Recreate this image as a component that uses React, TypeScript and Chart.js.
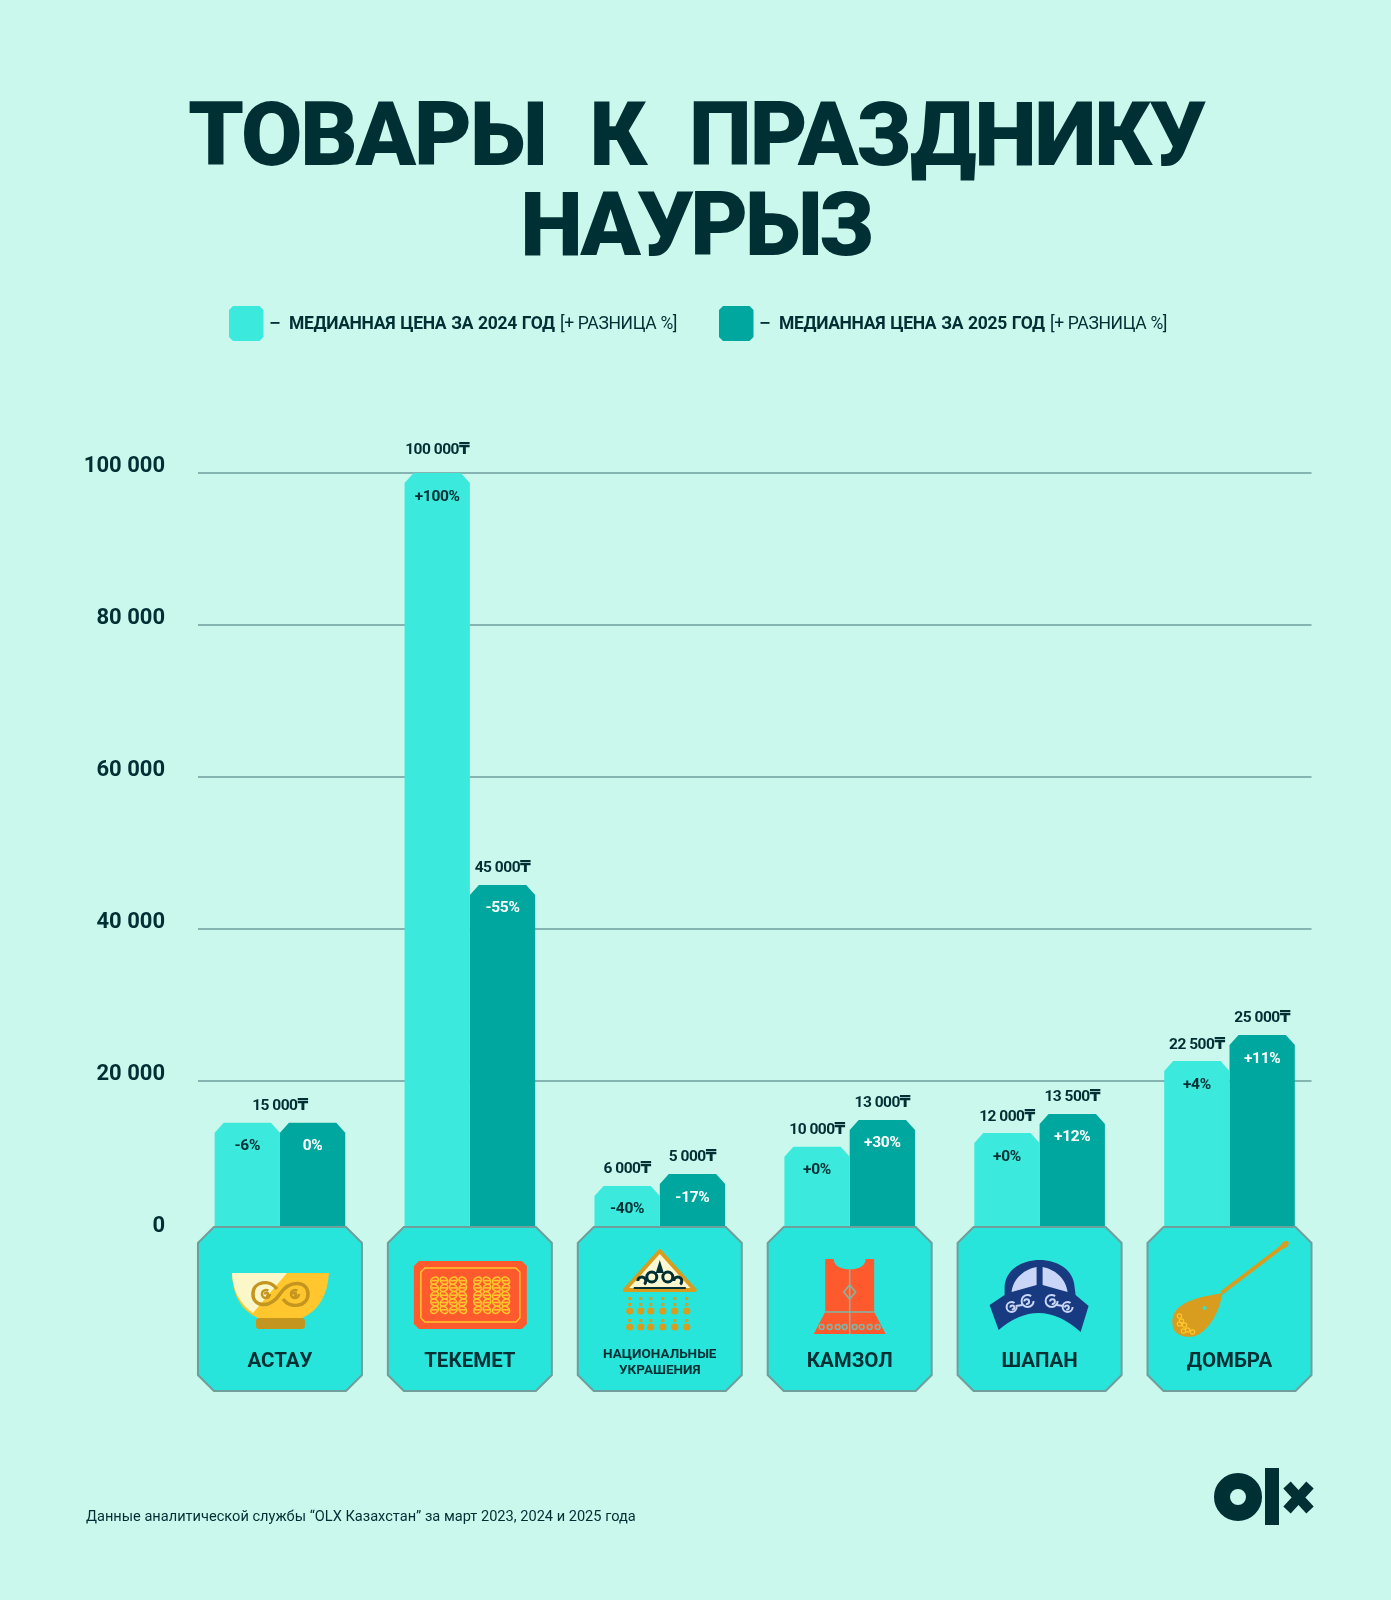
import React, { useEffect, useRef } from "react";
import { Chart, registerables } from "chart.js";

Chart.register(...registerables);

const categories: (string | string[])[] = [
	"АСТАУ",
	"ТЕКЕМЕТ",
	["НАЦИОНАЛЬНЫЕ", "УКРАШЕНИЯ"],
	"КАМЗОЛ",
	"ШАПАН",
	"ДОМБРА",
];

// bar heights as drawn in the picture (the original is not quite to scale with its printed prices)
const height2024 = [14500, 100000, 6200, 11350, 13150, 22630];
const height2025 = [14500, 45800, 7760, 14870, 15660, 26050];

// printed prices, empty string = shared label centred over the pair
const price2024 = ["15 000₸", "100 000₸", "6 000₸", "10 000₸", "12 000₸", "22 500₸"];
const price2025 = ["", "45 000₸", "5 000₸", "13 000₸", "13 500₸", "25 000₸"];

const diff2024 = ["-6%", "+100%", "-40%", "+0%", "+0%", "+4%"];
const diff2025 = ["0%", "-55%", "-17%", "+30%", "+12%", "+11%"];

const yTicks = [0, 20000, 40000, 60000, 80000, 100000];

const titleLines = ["ТОВАРЫ К ПРАЗДНИКУ", "НАУРЫЗ"];
const legendBold = ["МЕДИАННАЯ ЦЕНА ЗА 2024 ГОД", "МЕДИАННАЯ ЦЕНА ЗА 2025 ГОД"];
const legendNote = "[+ РАЗНИЦА %]";
const footnote = "Данные аналитической службы “OLX Казахстан” за март 2023, 2024 и 2025 года";

const BG = "#CBF8ED";
const LIGHT = "#3CE9DD";
const DARK = "#00A79E";
const TILE = "#28E5DB";
const EDGE = "#6F9E9B";
const INK = "#002F34";
const RED = "#FF5A2D";
const GOLD = "#D89C1E";
const YELLOW = "#FFC62E";
const NAVY = "#173A80";
const FONT = "Roboto, 'DejaVu Sans', sans-serif";

const chamfer = (
	ctx: CanvasRenderingContext2D,
	l: number,
	t: number,
	r: number,
	b: number,
	cx: number,
	cy: number,
	bottomToo = true
) => {
	ctx.beginPath();
	ctx.moveTo(l, t + cy);
	ctx.lineTo(l + cx, t);
	ctx.lineTo(r - cx, t);
	ctx.lineTo(r, t + cy);
	if (bottomToo) {
		ctx.lineTo(r, b - cy);
		ctx.lineTo(r - cx, b);
		ctx.lineTo(l + cx, b);
		ctx.lineTo(l, b - cy);
	} else {
		ctx.lineTo(r, b);
		ctx.lineTo(l, b);
	}
	ctx.closePath();
};

const text = (
	ctx: CanvasRenderingContext2D,
	s: string,
	x: number,
	y: number,
	font: string,
	color: string,
	align: CanvasTextAlign = "center",
	spacing = 0,
	wordSpacing = 0
) => {
	ctx.save();
	ctx.font = font;
	ctx.fillStyle = color;
	ctx.textAlign = align;
	ctx.textBaseline = "alphabetic";
	(ctx as any).letterSpacing = spacing + "px";
	(ctx as any).wordSpacing = wordSpacing + "px";
	ctx.fillText(s, x, y);
	ctx.restore();
};

const swirl = (ctx: CanvasRenderingContext2D, x: number, y: number, r: number, flip: number) => {
	ctx.beginPath();
	ctx.arc(x, y, r, 0, Math.PI * 1.7 * 1);
	ctx.stroke();
	ctx.beginPath();
	ctx.arc(x + flip * r * 0.15, y + r * 0.1, r * 0.4, Math.PI, Math.PI * 2.6);
	ctx.stroke();
};

// icons are drawn around the tile centre (cx) and the tile top (t)
const drawBowl = (ctx: CanvasRenderingContext2D, cx: number, t: number) => {
	ctx.fillStyle = YELLOW;
	ctx.beginPath();
	ctx.moveTo(cx - 48, t + 46);
	ctx.lineTo(cx + 49, t + 46);
	ctx.quadraticCurveTo(cx + 47, t + 80, cx + 22, t + 91);
	ctx.lineTo(cx - 22, t + 91);
	ctx.quadraticCurveTo(cx - 47, t + 80, cx - 48, t + 46);
	ctx.fill();
	ctx.fillStyle = "#FBF7C8";
	ctx.beginPath();
	ctx.moveTo(cx - 48, t + 46);
	ctx.lineTo(cx + 7, t + 46);
	ctx.lineTo(cx - 27, t + 86);
	ctx.quadraticCurveTo(cx - 47, t + 72, cx - 48, t + 46);
	ctx.fill();
	ctx.fillStyle = "#C4951F";
	chamfer(ctx, cx - 24, t + 91, cx + 25, t + 102, 2, 2);
	ctx.fill();
	ctx.strokeStyle = "#C4951F";
	ctx.lineWidth = 3.5;
	ctx.beginPath();
	ctx.moveTo(cx - 3, t + 62);
	ctx.bezierCurveTo(cx - 10, t + 52, cx - 27, t + 54, cx - 27, t + 67);
	ctx.bezierCurveTo(cx - 27, t + 80, cx - 10, t + 82, cx, t + 67);
	ctx.bezierCurveTo(cx + 10, t + 52, cx + 28, t + 54, cx + 28, t + 67);
	ctx.bezierCurveTo(cx + 28, t + 80, cx + 10, t + 82, cx + 3, t + 72);
	ctx.stroke();
	ctx.lineWidth = 2.5;
	swirl(ctx, cx - 14, t + 67, 4, 1);
	swirl(ctx, cx + 15, t + 67, 4, -1);
};

const drawRug = (ctx: CanvasRenderingContext2D, cx: number, t: number) => {
	ctx.fillStyle = RED;
	chamfer(ctx, cx - 56, t + 34, cx + 57, t + 102, 5, 5);
	ctx.fill();
	ctx.strokeStyle = YELLOW;
	ctx.lineWidth = 1.5;
	chamfer(ctx, cx - 49, t + 41, cx + 50, t + 95, 4, 4);
	ctx.stroke();
	[cx - 40, cx + 3].forEach(l => {
		ctx.lineWidth = 1.6;
		for (let i = 0; i < 5; i++) {
			for (let j = 0; j < 4; j++) {
				const px = l + 4.7 + j * 9.4;
				const py = t + 50 + 3.6 + i * 7.3;
				ctx.beginPath();
				ctx.ellipse(px, py, 4.2, 3.2, (i + j) % 2 ? 0.7 : -0.7, 0, Math.PI * 2);
				ctx.stroke();
				ctx.beginPath();
				ctx.moveTo(px - 3, py);
				ctx.lineTo(px + 3, py);
				ctx.stroke();
			}
		}
	});
};

const drawJewel = (ctx: CanvasRenderingContext2D, cx: number, t: number) => {
	ctx.fillStyle = "#FDF8D2";
	ctx.strokeStyle = GOLD;
	ctx.lineWidth = 4;
	ctx.lineJoin = "round";
	ctx.beginPath();
	ctx.moveTo(cx, t + 24);
	ctx.lineTo(cx + 35, t + 63);
	ctx.lineTo(cx - 35, t + 63);
	ctx.closePath();
	ctx.fill();
	ctx.stroke();
	ctx.lineJoin = "miter";
	ctx.strokeStyle = INK;
	ctx.lineWidth = 3;
	[-1, 1].forEach(d => {
		ctx.beginPath();
		ctx.arc(cx + d * 8, t + 50, 5, 0, Math.PI * 2);
		ctx.stroke();
		ctx.beginPath();
		ctx.arc(cx + d * 18, t + 54, 4, Math.PI, Math.PI * 2.3);
		ctx.stroke();
	});
	ctx.fillStyle = INK;
	ctx.beginPath();
	ctx.moveTo(cx, t + 33);
	ctx.lineTo(cx + 4, t + 46);
	ctx.lineTo(cx - 4, t + 46);
	ctx.closePath();
	ctx.fill();
	ctx.fillRect(cx - 26, t + 60, 52, 2);
	ctx.fillStyle = GOLD;
	[-30, -19, -9, 3, 15, 27].forEach(dx => {
		[70, 76, 92].forEach(dy => {
			ctx.fillRect(cx + dx - 1.5, t + dy, 3, 3);
		});
		[84, 100].forEach(dy => {
			ctx.beginPath();
			ctx.arc(cx + dx, t + dy, 3.6, 0, Math.PI * 2);
			ctx.fill();
		});
	});
};

const drawVest = (ctx: CanvasRenderingContext2D, cx: number, t: number) => {
	ctx.fillStyle = RED;
	ctx.beginPath();
	ctx.moveTo(cx - 24.5, t + 32);
	ctx.lineTo(cx - 16, t + 32);
	ctx.bezierCurveTo(cx - 16, t + 46, cx + 16, t + 46, cx + 16, t + 32);
	ctx.lineTo(cx + 24.5, t + 32);
	ctx.lineTo(cx + 24.5, t + 85);
	ctx.lineTo(cx + 36, t + 107);
	ctx.lineTo(cx - 36, t + 107);
	ctx.lineTo(cx - 24.5, t + 85);
	ctx.closePath();
	ctx.fill();
	ctx.strokeStyle = "#7FB8A6";
	ctx.lineWidth = 1.5;
	ctx.beginPath();
	ctx.moveTo(cx, t + 43);
	ctx.lineTo(cx, t + 107);
	ctx.moveTo(cx - 25, t + 85);
	ctx.lineTo(cx + 25, t + 85);
	ctx.stroke();
	ctx.beginPath();
	ctx.moveTo(cx, t + 58);
	ctx.lineTo(cx + 6, t + 65);
	ctx.lineTo(cx, t + 72);
	ctx.lineTo(cx - 6, t + 65);
	ctx.closePath();
	ctx.stroke();
	[-28, -20, -12, -5, 5, 12, 20, 28].forEach(dx => {
		ctx.beginPath();
		ctx.arc(cx + dx, t + 100, 2.4, 0, Math.PI * 2);
		ctx.stroke();
	});
};

const drawHat = (ctx: CanvasRenderingContext2D, cx: number, t: number) => {
	ctx.fillStyle = NAVY;
	ctx.beginPath();
	ctx.moveTo(cx - 35, t + 60);
	ctx.bezierCurveTo(cx - 33, t + 24, cx + 33, t + 24, cx + 35, t + 60);
	ctx.lineTo(cx + 36, t + 68);
	ctx.lineTo(cx + 49, t + 79);
	ctx.lineTo(cx + 41, t + 105);
	ctx.quadraticCurveTo(cx, t + 68, cx - 41, t + 103);
	ctx.lineTo(cx - 50, t + 78);
	ctx.lineTo(cx - 35, t + 68);
	ctx.closePath();
	ctx.fill();
	ctx.fillStyle = "#C9D6F7";
	ctx.beginPath();
	ctx.moveTo(cx - 3, t + 40);
	ctx.bezierCurveTo(cx - 14, t + 42, cx - 26, t + 50, cx - 28, t + 65);
	ctx.lineTo(cx - 3, t + 58);
	ctx.closePath();
	ctx.moveTo(cx + 3, t + 40);
	ctx.bezierCurveTo(cx + 14, t + 42, cx + 26, t + 50, cx + 28, t + 65);
	ctx.lineTo(cx + 3, t + 58);
	ctx.closePath();
	ctx.fill();
	ctx.strokeStyle = "#C9D6F7";
	ctx.lineWidth = 2;
	[-1, 1].forEach(d => {
		swirl(ctx, cx + d * 12, t + 74, 6, d);
		swirl(ctx, cx + d * 28, t + 80, 5, -d);
		ctx.beginPath();
		ctx.moveTo(cx + d * 17, t + 78);
		ctx.lineTo(cx + d * 24, t + 79);
		ctx.stroke();
	});
};

const drawDombra = (ctx: CanvasRenderingContext2D, cx: number, t: number) => {
	ctx.strokeStyle = GOLD;
	ctx.lineWidth = 4;
	ctx.beginPath();
	ctx.moveTo(cx - 8, t + 66);
	ctx.lineTo(cx + 55, t + 18);
	ctx.stroke();
	ctx.fillStyle = GOLD;
	ctx.beginPath();
	ctx.ellipse(cx + 55, t + 18, 5, 3, -0.7, 0, Math.PI * 2);
	ctx.fill();
	ctx.beginPath();
	ctx.moveTo(cx - 7, t + 66);
	ctx.bezierCurveTo(cx - 28, t + 70, cx - 60, t + 74, cx - 57, t + 98);
	ctx.bezierCurveTo(cx - 56, t + 110, cx - 40, t + 112, cx - 32, t + 108);
	ctx.bezierCurveTo(cx - 20, t + 102, cx - 10, t + 85, cx - 7, t + 66);
	ctx.fill();
	ctx.fillStyle = TILE;
	ctx.beginPath();
	ctx.arc(cx - 25, t + 81, 2, 0, Math.PI * 2);
	ctx.fill();
	ctx.strokeStyle = YELLOW;
	ctx.lineWidth = 1.2;
	[[-50, 89], [-48, 94], [-45, 98], [-42, 103], [-50, 97], [-46, 104], [-37, 105]].forEach(p => {
		ctx.beginPath();
		ctx.arc(cx + p[0], t + p[1], 2.2, 0, Math.PI * 2);
		ctx.stroke();
	});
};

const icons = [drawBowl, drawRug, drawJewel, drawVest, drawHat, drawDombra];

const decorPlugin = {
	id: "decor",
	beforeDraw(chart: any) {
		const { ctx, width, height } = chart;
		ctx.save();
		ctx.fillStyle = BG;
		ctx.fillRect(0, 0, width, height);

		text(ctx, titleLines[0], 696, 165, "900 89px " + FONT, INK, "center", -2.1, 24);
		text(ctx, titleLines[1], 696, 255, "900 89px " + FONT, INK, "center", -3.4, 0);

		const lx = [229, 719];
		legendBold.forEach((s, i) => {
			ctx.fillStyle = i === 0 ? LIGHT : DARK;
			chamfer(ctx, lx[i], 306, lx[i] + 34.5, 341, 4, 4);
			ctx.fill();
			ctx.fillStyle = INK;
			ctx.fillRect(lx[i] + 41.5, 322, 9, 1.8);
			text(ctx, s, lx[i] + 60, 329, "700 17.5px " + FONT, INK, "left", -0.35, 1);
			text(ctx, legendNote, lx[i] + 331, 329, "400 17.5px " + FONT, INK, "left", -0.35);
		});

		text(ctx, footnote, 86, 1521, "400 14.6px " + FONT, INK, "left");

		// logo
		ctx.strokeStyle = INK;
		ctx.lineWidth = 16;
		ctx.beginPath();
		ctx.arc(1238, 1497, 16, 0, Math.PI * 2);
		ctx.stroke();
		ctx.fillStyle = INK;
		ctx.fillRect(1265, 1468, 14, 57);
		ctx.lineWidth = 10;
		ctx.beginPath();
		ctx.moveTo(1287, 1485);
		ctx.lineTo(1310, 1510);
		ctx.moveTo(1310, 1485);
		ctx.lineTo(1287, 1510);
		ctx.stroke();
		ctx.restore();
	},
	beforeDatasetsDraw(chart: any) {
		const { ctx, scales } = chart;
		const left = scales.x.getPixelForValue(0) - 82;
		const right = scales.x.getPixelForValue(categories.length - 1) + 82;
		ctx.save();
		ctx.strokeStyle = EDGE;
		ctx.lineWidth = 1.5;
		yTicks.slice(1).forEach(v => {
			const y = scales.y.getPixelForValue(v);
			ctx.beginPath();
			ctx.moveTo(left, y);
			ctx.lineTo(right, y);
			ctx.stroke();
		});
		ctx.restore();
	},
	beforeDatasetDraw(chart: any, args: any) {
		const { ctx } = chart;
		ctx.save();
		ctx.fillStyle = chart.data.datasets[args.index].backgroundColor;
		args.meta.data.forEach((el: any) => {
			chamfer(ctx, el.x - el.width / 2, el.y, el.x + el.width / 2, el.base, 9, 10, false);
			ctx.fill();
		});
		ctx.restore();
		return false;
	},
	afterDatasetsDraw(chart: any) {
		const { ctx, scales } = chart;
		const tileTop = scales.y.getPixelForValue(0) - 6;
		categories.forEach((_, i) => {
			const cx = scales.x.getPixelForValue(i);
			ctx.save();
			ctx.fillStyle = TILE;
			ctx.strokeStyle = EDGE;
			ctx.lineWidth = 2;
			chamfer(ctx, cx - 82, tileTop, cx + 82, tileTop + 164, 16, 16);
			ctx.fill();
			ctx.stroke();
			ctx.restore();
			ctx.save();
			icons[i](ctx, cx, tileTop);
			ctx.restore();
		});
		const m0 = chart.getDatasetMeta(0).data;
		const m1 = chart.getDatasetMeta(1).data;
		const priceFont = "700 15.5px " + FONT;
		const diffFont = "700 15.5px " + FONT;
		categories.forEach((_, i) => {
			const a = m0[i];
			const b = m1[i];
			const shared = price2025[i] === "";
			const ax = shared ? (a.x + b.x) / 2 : a.x;
			const lift = a.y < scales.y.getPixelForValue(99000) ? 19 : 12.5;
			text(ctx, price2024[i], ax, a.y - lift, priceFont, INK, "center", -0.5);
			text(ctx, price2025[i], b.x, b.y - 13, priceFont, INK, "center", -0.5);
			text(ctx, diff2024[i], a.x, a.y + 27.5, diffFont, INK, "center", -0.3);
			text(ctx, diff2025[i], b.x, b.y + 27.5, diffFont, "#FFFFFF", "center", -0.3);
		});
	},
};

const App: React.FC = () => {
	const chartRef = useRef<HTMLCanvasElement>(null);

	useEffect(() => {
		document.body.style.margin = "0";
		document.body.style.background = BG;
		if (!chartRef.current) return;
		const chart = new Chart(chartRef.current, {
			type: "bar",
			data: {
				labels: categories as any,
				datasets: [
					{ label: "2024", data: height2024, backgroundColor: LIGHT, barThickness: 65.3 },
					{ label: "2025", data: height2025, backgroundColor: DARK, barThickness: 65.3 },
				],
			},
			plugins: [decorPlugin as any],
			options: {
				responsive: false,
				animation: false,
				devicePixelRatio: 1,
				layout: { padding: { top: 473, right: 66.5, left: 0, bottom: 0 } },
				plugins: {
					legend: { display: false },
					title: { display: false },
					tooltip: { enabled: false },
				},
				scales: {
					x: {
						grid: { display: false },
						border: { display: false },
						afterFit: (scale: any) => {
							scale.height = 367;
						},
						ticks: {
							z: 1,
							autoSkip: false,
							maxRotation: 0,
							minRotation: 0,
							padding: 113.3,
							color: INK,
							crossAlign: "center",
							font: (c: any) =>
								Array.isArray(categories[c.index])
									? { family: FONT, weight: 700, size: 13.5, lineHeight: 1.2 }
									: { family: FONT, weight: 700, size: 20.5, lineHeight: 0.8 },
						} as any,
					},
					y: {
						min: 0,
						max: 100000,
						grid: { display: false, drawTicks: false },
						border: { display: false },
						afterFit: (scale: any) => {
							scale.width = 185;
						},
						afterBuildTicks: (scale: any) => {
							scale.ticks = yTicks.map(value => ({ value }));
						},
						ticks: {
							padding: 20,
							labelOffset: -7,
							color: INK,
							font: { family: FONT, weight: 700, size: 22 },
							callback: (v: any) => String(v).replace(/\B(?=(\d{3})+$)/g, " "),
						} as any,
					},
				},
			} as any,
		});
		return () => {
			chart.destroy();
		};
	}, []);

	return <canvas ref={chartRef} width={1391} height={1600} style={{ display: "block" }} />;
};

export default App;
